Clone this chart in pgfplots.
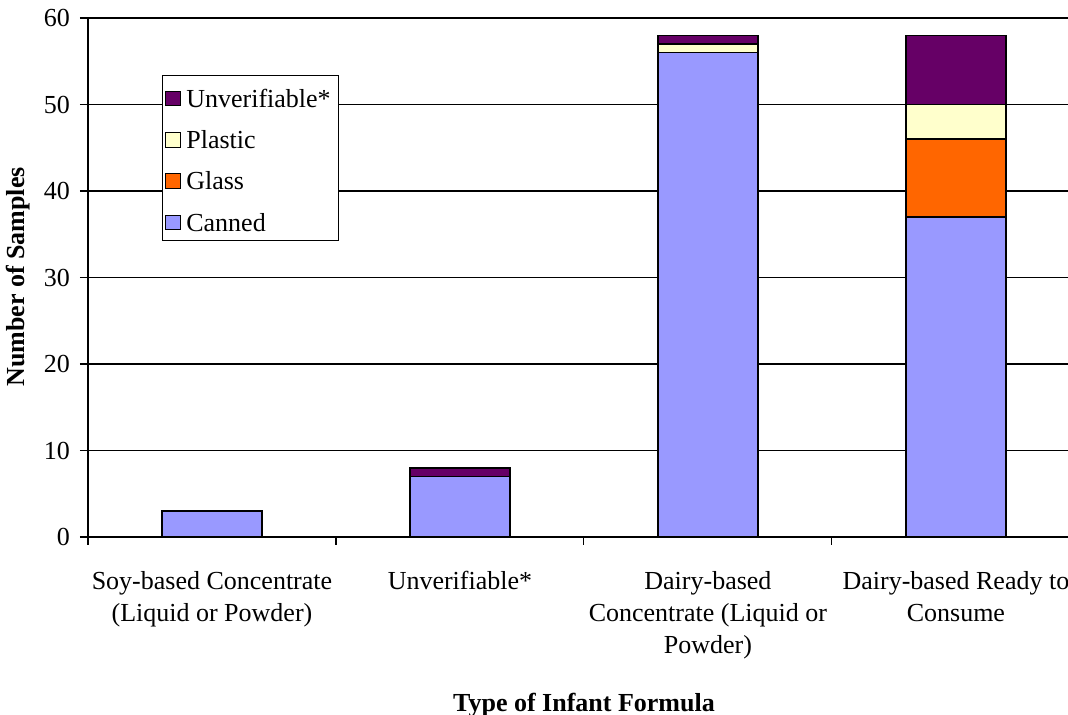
\documentclass[border=0pt]{standalone}
\usepackage{fontspec}
\setmainfont{Liberation Serif}
\usepackage{pgfplots}
\pgfplotsset{compat=1.18}

\definecolor{canned}{HTML}{9999FF}
\definecolor{glass}{HTML}{FF6600}
\definecolor{plastic}{HTML}{FFFFCC}
\definecolor{unver}{HTML}{660066}

\begin{document}
\begin{tikzpicture}
\begin{axis}[
  scale only axis,
  width=735pt, height=389.25pt,
  ybar stacked,
  bar width=0.403,
  xmin=-0.5, xmax=3.452,
  ymin=0, ymax=60,
  ytick={0,10,...,60},
  axis x line=bottom, axis y line=left,
  axis line style={-, line width=0.9pt},
  ymajorgrids,
  major grid style={black, line width=0.8pt},
  tick align=outside,
  major tick length=6pt,
  tick style={black, line width=0.8pt},
  xtick={-0.5,0.5,1.5,2.5},
  xticklabels={,,,},
  extra x ticks={0,1,2,3},
  extra x tick labels={{Soy-based Concentrate\\(Liquid or Powder)},{Unverifiable*},{Dairy-based\\Concentrate (Liquid or\\Powder)},{Dairy-based Ready to\\Consume}},
  extra x tick style={tick style={draw=none}},
  xticklabel style={align=center, yshift=-16pt},
  font=\fontsize{19.5}{24}\selectfont,
  tick label style={font=\fontsize{19.5}{24}\selectfont},
  /pgf/number format/assume math mode=true,
  yticklabel style={xshift=-4pt},
  ylabel={\textbf{Number of Samples}},
  ylabel style={at={(axis description cs:-0.0714,0.501)}, anchor=center},
  xlabel={\textbf{Type of Infant Formula}},
  xlabel style={at={(axis description cs:0.5,0)}, anchor=center, xshift=4.5pt, yshift=-126pt},
  legend reversed,
  legend cell align=left,
  legend style={at={(axis description cs:0.0755,0.891)}, anchor=north west,
    draw=black, line width=0.9pt, fill=white,
    font=\fontsize{19.5}{24}\selectfont,
    row sep=10pt, inner xsep=2pt, inner ysep=5pt,
    nodes={inner xsep=4pt, text height=17pt, text depth=0pt}},
  legend image code/.code={\draw[#1, line width=0.8pt] (5pt,-7.5pt) rectangle (16pt,3.5pt);},
]
\addplot[fill=canned, draw=black, line width=1.1pt] coordinates {(0,3) (1,7) (2,56) (3,37)};
\addplot[fill=glass, draw=black, line width=1.1pt] coordinates {(0,0) (1,0) (2,0) (3,9)};
\addplot[fill=plastic, draw=black, line width=1.1pt] coordinates {(0,0) (1,0) (2,1) (3,4)};
\addplot[fill=unver, draw=black, line width=1.1pt] coordinates {(0,0) (1,1) (2,1) (3,8)};
\legend{Canned,Glass,Plastic,Unverifiable*}
\coordinate (sw) at (rel axis cs:0,0);
\coordinate (ne) at (rel axis cs:1,1);
\end{axis}
\pgfresetboundingbox
\path ([xshift=-66pt,yshift=-133.5pt]sw) rectangle ([yshift=13.5pt]ne);
\end{tikzpicture}
\end{document}
